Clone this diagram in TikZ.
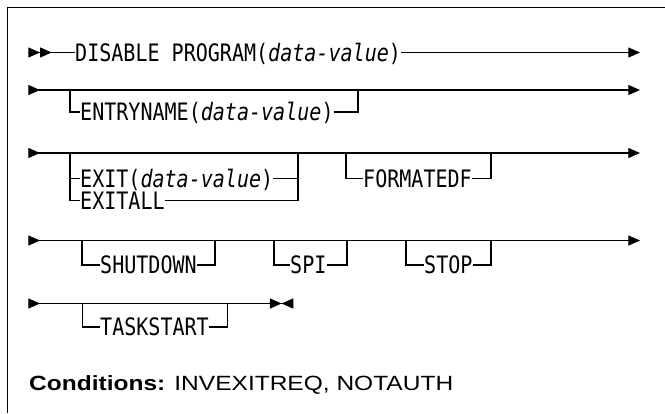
\documentclass[tikz,border=0pt]{standalone}
\usepackage{fontspec}
\usepackage{tikz}
\usetikzlibrary{positioning}
\usetikzlibrary{arrows.meta}
\newfontfamily\synfont[FakeStretch=0.835]{DejaVu Sans Mono}
\newfontfamily\condfont[FakeStretch=1.19]{Liberation Sans}
\tikzset{
    kwnode/.style = {anchor=west, inner sep=0pt, text height=17.4pt, text depth=0pt, font=\synfont\fontsize{24pt}{26pt}\selectfont, text=black},
    condnode/.style = {anchor=west, inner sep=0pt, text height=14.5pt, text depth=0pt, font=\condfont\fontsize{20.6pt}{24pt}\selectfont, text=black},
    edgen/.style = {-, line width=1.2pt, black},
    edgef/.style = {-, line width=1.5pt, black}, % frame
    edgeb/.style = {{Triangle[length=11.7pt,width=10pt,reversed]}-{Triangle[length=11.7pt,width=10pt]}, line width=1.2pt, black}, % full row
    edgebb/.style = {{Triangle[length=11.7pt,width=10pt,reversed,sep=0pt]Triangle[length=11.7pt,width=10pt,reversed,sep=0pt]}-, line width=1.2pt, black}, % first row start
    edgee/.style = {-{Triangle[length=11.7pt,width=10pt]}, line width=1.2pt, black}, % row end
    edgeee/.style = {{Triangle[length=11.7pt,width=10pt,reversed]}-{Triangle[length=11.7pt,width=10pt,sep=0pt]Triangle[length=11.7pt,width=10pt,reversed,sep=0pt]}, line width=1.2pt, black} % last row
}

\begin{document}
\begin{tikzpicture}[x=1pt,y=-1pt]
  \useasboundingbox (0,0) rectangle (665,413);

  % frame
  \coordinate (frr) at (665,7.3);
  \coordinate (frb) at (7.5,413);
  \draw[edgef] (frr) -| (frb);

  % row 1
  \coordinate (r1s) at (28.3,52.5);
  \coordinate (r1e) at (640,52.5);
  \node[kwnode] (disable) at (75,52.5) {DISABLE PROGRAM(\textit{data-value})};
  \draw[edgebb] (r1s) -- (disable.west);
  \draw[edgee] (disable.east) -- (r1e);

  % row 2
  \coordinate (r2s) at (28.3,90);
  \coordinate (r2e) at (640,90);
  \coordinate (b2l) at (70,90);
  \coordinate (b2r) at (358,90);
  \draw[edgeb] (r2s) -- (r2e);
  \node[kwnode] (entry) at (80,112) {ENTRYNAME(\textit{data-value})};
  \draw[edgen] (b2l) |- (entry.west);
  \draw[edgen] (entry.east) -| (b2r);

  % row 3
  \coordinate (r3s) at (28.3,153);
  \coordinate (r3e) at (640,153);
  \coordinate (b3l) at (70,153);
  \coordinate (b3r) at (298,153);
  \coordinate (b3fl) at (346,153);
  \coordinate (b3fr) at (491,153);
  \draw[edgeb] (r3s) -- (r3e);
  \node[kwnode] (exit) at (80,178.5) {EXIT(\textit{data-value})};
  \node[kwnode] (exitall) at (80,200.5) {EXITALL};
  \node[kwnode] (formatedf) at (363,178.5) {FORMATEDF};
  \draw[edgen] (b3l) |- (exit.west);
  \draw[edgen] (b3l) |- (exitall.west);
  \draw[edgen] (exit.east) -| (b3r);
  \draw[edgen] (exitall.east) -| (b3r);
  \draw[edgen] (b3fl) |- (formatedf.west);
  \draw[edgen] (formatedf.east) -| (b3fr);

  % row 4
  \coordinate (r4s) at (28.3,240.5);
  \coordinate (r4e) at (640,240.5);
  \draw[edgeb] (r4s) -- (r4e);
  \coordinate (b4al) at (82,240.5);
  \coordinate (b4ar) at (215,240.5);
  \coordinate (b4bl) at (274,240.5);
  \coordinate (b4br) at (347,240.5);
  \coordinate (b4cl) at (406,240.5);
  \coordinate (b4cr) at (491,240.5);
  \node[kwnode] (shutdown) at (100,265) {SHUTDOWN};
  \node[kwnode] (spi) at (290,265) {SPI};
  \node[kwnode] (stop) at (424,265) {STOP};
  \draw[edgen] (b4al) |- (shutdown.west);
  \draw[edgen] (shutdown.east) -| (b4ar);
  \draw[edgen] (b4bl) |- (spi.west);
  \draw[edgen] (spi.east) -| (b4br);
  \draw[edgen] (b4cl) |- (stop.west);
  \draw[edgen] (stop.east) -| (b4cr);

  % row 5
  \coordinate (r5s) at (28.3,303.5);
  \coordinate (r5e) at (293.3,303.5);
  \coordinate (b5l) at (82.7,303.5);
  \coordinate (b5r) at (227.3,303.5);
  \draw[edgeee] (r5s) -- (r5e);
  \node[kwnode] (taskstart) at (100,327) {TASKSTART};
  \draw[edgen] (b5l) |- (taskstart.west);
  \draw[edgen] (taskstart.east) -| (b5r);

  % conditions
  \node[condnode] (cond) at (29,383.3) {\textbf{Conditions:} INVEXITREQ, NOTAUTH};
\end{tikzpicture}
\end{document}
